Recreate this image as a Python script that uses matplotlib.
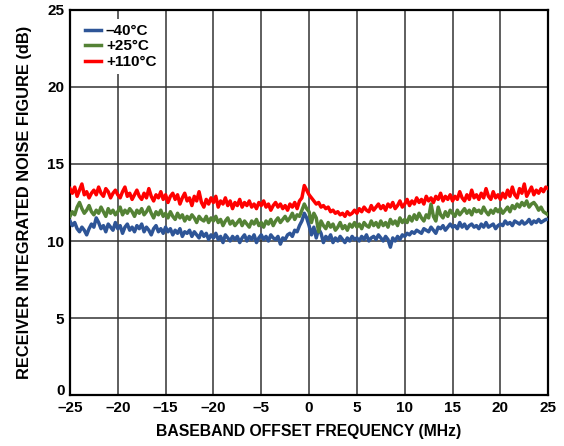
import matplotlib
matplotlib.use('Agg')
import matplotlib.pyplot as plt
import matplotlib.transforms as mtransforms
import numpy as np

# Baseband offset frequency (MHz), 0.25 MHz steps
freq = np.arange(-25, 25.001, 0.25)

nf_m40 = [11.3, 11.0, 11.2, 10.8, 10.6, 10.9, 10.7, 10.4, 10.8, 11.1,
          10.9, 11.5, 11.2, 10.8, 11.0, 10.6, 11.1, 10.9, 10.7, 11.2,
          10.8, 11.0, 10.5, 10.9, 11.1, 10.7, 10.9, 10.6, 11.0, 10.8,
          11.1, 10.6, 10.9, 10.7, 10.4, 10.8, 11.0, 10.6, 10.8, 10.5,
          10.9, 10.6, 10.8, 10.4, 10.7, 10.5, 10.8, 10.3, 10.6, 10.5,
          10.7, 10.3, 10.6, 10.4, 10.2, 10.6, 10.3, 10.5, 10.1, 10.4,
          10.2, 10.5, 10.1, 10.3, 9.9, 10.4, 10.2, 10.0, 10.3, 10.1,
          10.3, 9.9, 10.2, 10.4, 10.0, 10.3, 10.1, 10.4, 9.9, 10.2,
          10.4, 10.1, 10.3, 10.0, 10.4, 10.2, 10.1, 10.3, 9.8, 10.2,
          10.1, 10.4, 10.5, 10.3, 10.7, 10.6, 11.0, 11.3, 11.8, 11.5,
          11.0, 10.4, 10.9, 10.2, 10.8, 10.5, 9.9, 10.3, 10.1, 10.4,
          9.9, 10.2, 10.0, 10.3, 10.1, 9.9, 10.2, 10.0, 10.3, 10.1,
          10.2, 10.0, 10.3, 10.1, 10.4, 10.0, 10.2, 10.3, 10.1, 10.4,
          10.2, 10.0, 10.3, 10.1, 9.6, 10.2, 10.0, 10.3, 10.1, 10.4,
          10.3, 10.5, 10.4, 10.6, 10.5, 10.7, 10.6, 10.5, 10.8, 10.7,
          10.6, 10.9, 10.7, 10.5, 10.9, 10.8, 11.0, 10.7, 10.9, 11.1,
          10.9, 11.0, 10.8, 11.2, 10.9, 11.1, 10.8, 11.0, 11.1, 10.9,
          11.0, 10.8, 11.1, 10.9, 11.2, 10.9, 11.0, 11.1, 10.8, 11.0,
          11.1, 11.0, 11.3, 11.1, 11.2, 11.0, 11.3, 11.2, 11.1, 11.3,
          11.1, 11.2, 11.4, 11.1, 11.3, 11.2, 11.4, 11.2, 11.3, 11.4,
          11.4]

nf_p25 = [11.6, 11.9, 11.7, 12.2, 12.5, 12.1, 11.8, 12.0, 12.3, 11.9,
          11.7, 12.0, 11.8, 12.2, 11.9, 11.6, 12.1, 11.8, 12.0, 11.7,
          11.9, 12.2, 11.7, 12.0, 11.8, 12.1, 11.9, 11.6, 12.0, 11.8,
          12.1, 11.7, 11.9, 12.2, 11.8, 11.5, 11.9, 11.7, 12.0, 11.6,
          11.8, 11.5, 11.9, 11.6, 11.4, 11.8, 11.5, 11.7, 11.3, 11.6,
          11.4, 11.7, 11.5, 11.2, 11.6, 11.4, 11.3, 11.6, 11.2, 11.5,
          11.3, 11.6, 11.2, 11.4, 11.0, 11.3, 11.5, 11.1, 11.3, 11.0,
          11.2, 11.4, 11.0, 11.3, 11.1, 10.9, 11.3, 11.1, 11.4, 11.0,
          11.2, 10.9, 11.3, 11.1, 11.4, 11.0, 11.3, 11.5, 11.2, 11.4,
          11.6, 11.3, 11.5, 11.8, 11.4, 11.7, 11.6, 12.0, 12.4, 12.1,
          11.9, 11.2, 11.8, 11.5, 10.6, 11.3, 11.0, 10.8, 11.2, 10.9,
          11.1, 10.7, 10.9, 11.2, 10.8, 11.0, 10.7, 11.1, 10.9, 11.2,
          10.9, 11.1, 10.8, 11.2, 11.0, 10.9, 11.3, 11.0, 11.2, 10.9,
          11.3, 11.0, 11.2, 10.9, 11.4, 11.1, 11.3, 11.0, 11.5, 11.2,
          11.4, 11.2, 11.6, 11.3, 11.7, 11.4, 11.8, 11.5, 11.3, 11.7,
          11.5, 12.4, 11.6, 11.3, 12.2, 11.7, 11.5, 11.9, 11.6, 12.0,
          11.8, 11.6, 12.0, 11.7, 11.9, 12.1, 11.8, 12.0, 11.7, 12.1,
          11.9, 12.0, 11.8, 12.2, 11.9, 11.7, 12.0, 11.8, 12.1, 11.9,
          12.1, 11.8, 12.0, 12.2, 11.9, 12.3, 12.1, 12.4, 12.2, 12.5,
          12.3, 12.6, 12.2, 12.4, 12.5, 12.3, 12.0, 12.2, 11.9, 11.8,
          11.7]

nf_p110 = [13.4, 13.1, 13.5, 12.9, 13.3, 13.7, 13.0, 13.2, 12.8, 13.1,
           13.3, 13.0, 13.5, 13.1, 12.9, 13.4, 13.2, 12.8, 13.1, 13.3,
           13.0, 12.8, 13.2, 13.5, 12.9, 13.1, 12.7, 13.0, 13.3, 12.9,
           12.7, 13.1, 12.8, 13.4, 12.9, 12.6, 13.0, 12.8, 13.2, 12.7,
           13.0, 12.5, 12.9, 13.1, 12.7, 13.0, 12.4, 12.8, 13.1, 12.6,
           12.8, 12.3, 12.9, 12.6, 13.2, 12.5, 12.2, 12.7, 12.4, 12.8,
           12.5, 12.9, 12.2, 12.6, 12.4, 12.8, 12.3, 12.6, 12.1, 12.5,
           12.3, 12.7, 12.2, 12.5, 12.3, 12.6, 12.2, 12.4, 12.1, 12.5,
           12.3, 12.6, 12.2, 12.4, 12.0, 12.3, 12.5, 12.2, 12.4, 12.1,
           12.3, 12.0, 12.4, 12.2, 12.5, 12.1, 12.6, 12.8, 13.6, 13.3,
           13.0, 12.8, 12.6, 12.4, 12.5, 12.2, 12.3, 12.1, 12.2, 11.9,
           12.0, 11.8, 11.9, 11.7, 11.8, 11.6, 11.9, 11.7, 11.8, 12.0,
           11.8, 12.1, 11.9, 12.2, 12.0, 11.9, 12.3, 12.0, 12.2, 12.4,
           12.1, 12.3, 12.0, 12.4, 12.2, 12.5, 12.1, 12.3, 12.6, 12.2,
           12.4, 12.7, 12.3, 12.6, 12.4, 12.8, 12.5, 12.7, 12.4, 12.9,
           12.6, 12.8, 12.5, 12.9, 12.7, 13.1, 12.6, 12.9, 12.7, 13.0,
           12.6, 12.9, 12.7, 13.2, 12.8, 12.6, 13.0, 12.7, 13.3, 12.8,
           13.0, 12.7, 13.1, 12.8, 13.4, 12.9, 12.7, 13.2, 12.8, 13.0,
           12.7, 13.1, 12.8, 13.3, 12.9, 13.5, 13.0, 12.8, 13.4, 13.1,
           13.7, 12.9, 13.2, 13.5, 13.0, 13.3, 13.1, 13.4, 13.2, 13.5,
           13.4]

series = [
    ("\u201340°C", nf_m40, "#2e5597"),
    ("+25°C", nf_p25, "#548235"),
    ("+110°C", nf_p110, "#ff0000"),
]

xticks = [-25, -20, -15, -10, -5, 0, 5, 10, 15, 20, 25]
# the original sheet prints "-20" at the -10 position
xticklabels = ["\u201325", "\u201320", "\u201315", "\u201320", "\u20135",
               "0", "5", "10", "15", "20", "25"]
yticks = [0, 5, 10, 15, 20, 25]

plt.rcParams['font.family'] = ['Liberation Sans', 'DejaVu Sans']
plt.rcParams['font.weight'] = 'bold'

fig = plt.figure(figsize=(5.64, 4.46), dpi=100)
ax = fig.add_axes([0.124, 0.114, 0.848, 0.864])

for label, vals, color in series:
    ax.plot(freq, vals, color=color, linewidth=2.5, label=label, zorder=3)

ax.set_xlim(-25, 25)
ax.set_ylim(0, 25)
ax.set_xticks(xticks)
ax.set_xticklabels(xticklabels)
ax.set_yticks(yticks)
ax.tick_params(axis='both', length=0, pad=4, labelsize=11)
for lab in ax.get_xticklabels() + ax.get_yticklabels():
    lab.set_fontweight('bold')

# lift the "0" a little so it clears the "-25" below it
zero_lab = ax.get_yticklabels()[0]
zero_lab.set_transform(zero_lab.get_transform() +
                       mtransforms.ScaledTranslation(0, 4 / 72, fig.dpi_scale_trans))

ax.grid(True, color='#333333', linewidth=1.1, zorder=1)
for sp in ax.spines.values():
    sp.set_linewidth(1.6)
    sp.set_color('black')

ax.set_xlabel("BASEBAND OFFSET FREQUENCY (MHz)", fontsize=11.3, fontweight='bold', labelpad=7)
ax.set_ylabel("RECEIVER INTEGRATED NOISE FIGURE (dB)", fontsize=11.8, fontweight='bold', labelpad=11)

leg = ax.legend(loc='upper left', frameon=True, fancybox=False, handlelength=1.1,
                handletextpad=0.3, labelspacing=0.1, borderpad=0.3,
                prop={'weight': 'bold', 'size': 11}, bbox_to_anchor=(0.005, 0.995))
leg.get_frame().set_edgecolor('none')
leg.get_frame().set_facecolor('white')
leg.get_frame().set_alpha(1)
leg.set_zorder(5)

fig.savefig("out.png", dpi=100)
